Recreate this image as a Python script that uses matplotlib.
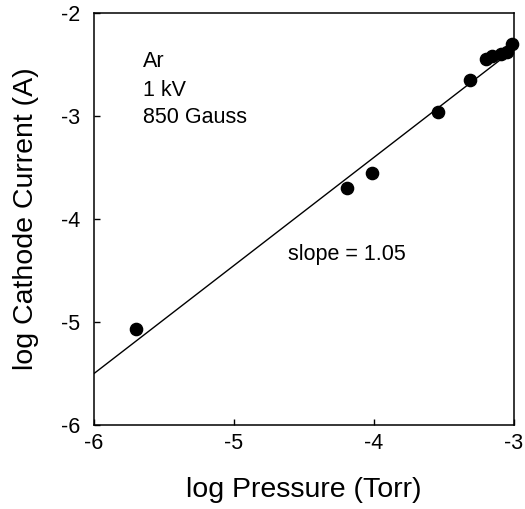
import matplotlib
matplotlib.use("Agg")
import matplotlib.pyplot as plt
import numpy as np

plt.rcParams['font.family'] = ['Liberation Sans', 'DejaVu Sans']

# Data
log_pressure = [-5.70, -4.195, -4.014, -3.54, -3.315, -3.20, -3.16, -3.094, -3.047, -3.011]
log_current = [-5.07, -3.70, -3.55, -2.958, -2.65, -2.44, -2.42, -2.40, -2.375, -2.30]

fit_slope = 1.05
fit_intercept = 0.80
fit_x = [-6.0, -3.0]

xticks = [-6, -5, -4, -3]
yticks = [-6, -5, -4, -3, -2]

annot_lines = ['Ar', '1 kV', '850 Gauss']
annot_y = [-2.466, -2.748, -3.01]

fig = plt.figure(figsize=(5.25, 5.09), dpi=100)
ax = fig.add_axes([0.179, 0.165, 0.800, 0.809])

fx = np.array(fit_x)
ax.plot(fx, fit_slope * fx + fit_intercept, color='black', lw=1.0)
ax.plot(log_pressure, log_current, 'o', color='black', markersize=8.8, clip_on=False)

ax.set_xlim(-6, -3)
ax.set_ylim(-6, -2)
ax.set_xticks(xticks)
ax.set_yticks(yticks)
ax.set_xticklabels([str(t) for t in xticks])
ax.set_yticklabels([str(t) for t in yticks])
ax.tick_params(direction='in', length=4, width=1.0, labelsize=15.5, top=False, right=False)
ax.tick_params(axis='x', pad=6)
ax.tick_params(axis='y', pad=10)
for s in ax.spines.values():
    s.set_linewidth(1.1)

ax.set_xlabel('log Pressure (Torr)', fontsize=20.5, labelpad=16)
ax.set_ylabel('log Cathode Current (A)', fontsize=20.5, labelpad=16)

for txt, yy in zip(annot_lines, annot_y):
    ax.text(-5.65, yy, txt, fontsize=15.5, va='center', ha='left')
ax.text(-4.617, -4.34, 'slope = 1.05', fontsize=15.5, va='center', ha='left')

fig.savefig('out.png', dpi=100)
